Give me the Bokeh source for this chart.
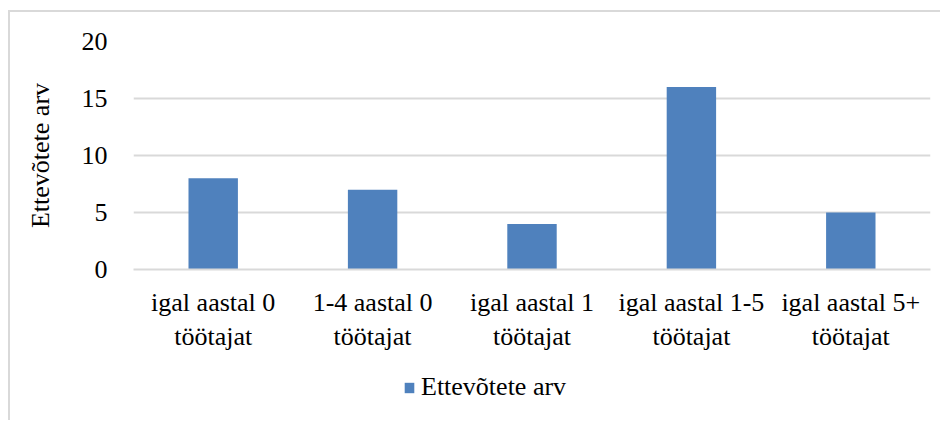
from bokeh.plotting import figure
from bokeh.models import ColumnDataSource, FactorRange, Range1d, Legend, LegendItem, FixedTicker
from bokeh.layouts import column
from bokeh.embed import file_html
from bokeh.resources import INLINE

categories = ["igal aastal 0\ntöötajat", "1-4 aastal 0\ntöötajat", "igal aastal 1\ntöötajat",
              "igal aastal 1-5\ntöötajat", "igal aastal 5+\ntöötajat"]
values = [8, 7, 4, 16, 5]
series_name = "Ettevõtete arv"
y_ticks = [0, 5, 10, 15, 20]

FONT = "Times New Roman"
TXT = "#000000"
GRID = "#d9d9d9"
BAR = "#4F81BD"

src = ColumnDataSource(dict(cat=categories, val=values))

p = figure(width=930, height=352, x_range=FactorRange(*categories), y_range=Range1d(0, 20),
           output_backend="svg", toolbar_location=None,
           min_border_left=123, min_border_right=10, min_border_top=29, min_border_bottom=95)
p.outline_line_color = None
p.background_fill_color = "white"
p.border_fill_color = "white"

r = p.vbar(x="cat", top="val", width=0.31, source=src, fill_color=BAR, line_color=None)

p.xgrid.grid_line_color = None
p.ygrid.grid_line_color = GRID
p.ygrid.grid_line_width = 2
p.yaxis.ticker = FixedTicker(ticks=y_ticks)

p.yaxis.axis_line_color = None
p.yaxis.major_tick_line_color = None
p.yaxis.minor_tick_line_color = None
p.yaxis.major_tick_out = 0
p.yaxis.major_tick_in = 0
p.yaxis.major_label_standoff = 26
p.yaxis.major_label_text_font = FONT
p.yaxis.major_label_text_font_size = "26px"
p.yaxis.major_label_text_color = TXT
p.yaxis.axis_label = series_name
p.yaxis.axis_label_text_font = FONT
p.yaxis.axis_label_text_font_size = "26px"
p.yaxis.axis_label_text_font_style = "normal"
p.yaxis.axis_label_text_color = TXT
p.yaxis.axis_label_standoff = 24

p.xaxis.axis_line_color = GRID
p.xaxis.axis_line_width = 2
p.xaxis.major_tick_line_color = None
p.xaxis.minor_tick_line_color = None
p.xaxis.major_tick_out = 0
p.xaxis.major_tick_in = 0
p.xaxis.major_label_standoff = 18
p.xaxis.major_label_text_font = FONT
p.xaxis.major_label_text_font_size = "26px"
p.xaxis.major_label_text_color = TXT

# legend strip below the chart (same series, bars kept out of view)
lf = figure(width=930, height=56, x_range=FactorRange(*categories), y_range=Range1d(100, 101),
            output_backend="svg", toolbar_location=None, x_axis_type=None, y_axis_type=None,
            min_border_left=0, min_border_right=0, min_border_top=0, min_border_bottom=0)
lf.outline_line_color = None
lf.grid.grid_line_color = None
lr = lf.vbar(x="cat", top="val", width=0.31, source=src, fill_color=BAR, line_color=None)

legend = Legend(items=[LegendItem(label=series_name, renderers=[lr])], orientation="horizontal",
                location=(270, 18), label_text_font=FONT, label_text_font_size="26px",
                label_text_color=TXT, glyph_width=12, glyph_height=13, label_standoff=6,
                border_line_color=None, background_fill_alpha=0, margin=0, padding=0, spacing=0)
lf.add_layout(legend)

layout = column(p, lf, spacing=0)
layout.styles = {"border-left": "2px solid #d9d9d9", "border-top": "2px solid #d9d9d9",
                 "margin-left": "8px", "margin-top": "10px"}

open("out.html", "w").write(file_html(layout, INLINE))
